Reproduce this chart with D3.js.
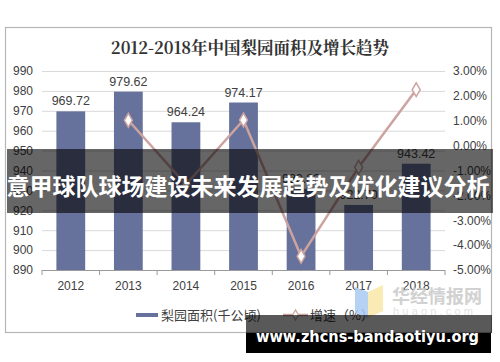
<!DOCTYPE html>
<html><head><meta charset="utf-8">
<script src="https://cdn.jsdelivr.net/npm/d3@7"></script>
<style>html,body{margin:0;padding:0;background:#fff;}svg{display:block;}</style>
</head><body>
<svg id="c" width="500" height="362"></svg>
<script>
const years = ["2012","2013","2014","2015","2016","2017","2018"];
const area = [969.72, 979.62, 964.24, 974.17, 930.83, 922.70, 943.42];
const growth = [null, 1.02, -1.57, 1.03, -4.45, -0.87, 2.25];
const leftTicks = [890,900,910,920,930,940,950,960,970,980,990];
const rightTicks = [-5,-4,-3,-2,-1,0,1,2,3];
const title = "2012-2018年中国梨园面积及增长趋势";
const bannerText = "意甲球队球场建设未来发展趋势及优化建议分析";
const footerText = "www.zhcns-bandaotiyu.org";

const svg = d3.select("#c");
const barColor = "#66729b", lineColor = "#cda3a0";
const fontSans = "'Liberation Sans', Arial, 'Noto Sans CJK SC', sans-serif";

svg.append("rect").attr("x",0).attr("y",0).attr("width",500).attr("height",362).attr("fill","#fff");
svg.append("rect").attr("x",5.5).attr("y",27.5).attr("width",486).attr("height",305)
  .attr("fill","#fff").attr("stroke","#b5b5b5").attr("stroke-width",1.2);

svg.append("text").attr("x",250).attr("y",54).attr("text-anchor","middle")
  .attr("font-family","'Noto Serif CJK SC','Noto Sans CJK SC',serif").attr("font-weight","bold")
  .attr("font-size",16.5).attr("fill","#333").text(title);

const x = d3.scaleBand().domain(years).range([42,445]).paddingInner(0.5).paddingOuter(0.25);
const yL = d3.scaleLinear().domain([890,990]).range([270,71]);
const yR = d3.scaleLinear().domain([-5,3]).range([270,71]);

// gridlines
svg.append("g").selectAll("line").data(leftTicks.filter(d=>d>890)).join("line")
  .attr("x1",42).attr("x2",445).attr("y1",d=>yL(d)+0.5).attr("y2",d=>yL(d)+0.5)
  .attr("stroke","#d9d9d9").attr("stroke-width",1);

// left axis
const gl = svg.append("g").attr("transform","translate(33,0)")
  .call(d3.axisLeft(yL).tickValues(leftTicks).tickSize(0).tickPadding(0).tickFormat(d3.format("d")));
gl.select(".domain").remove();
gl.selectAll("text").attr("font-family",fontSans).attr("font-size",12).attr("fill","#404040");

// right axis
const gr = svg.append("g").attr("transform","translate(453,0)")
  .call(d3.axisRight(yR).tickValues(rightTicks).tickSize(0).tickPadding(0).tickFormat(d=>d.toFixed(2)+"%"));
gr.select(".domain").remove();
gr.selectAll("text").attr("font-family",fontSans).attr("font-size",12).attr("fill","#404040");

// bars
svg.append("g").selectAll("rect").data(years).join("rect")
  .attr("x",d=>x(d)).attr("width",x.bandwidth())
  .attr("y",(d,i)=>yL(area[i])).attr("height",(d,i)=>yL(890)-yL(area[i]))
  .attr("fill",barColor);

// bottom axis
const gb = svg.append("g").attr("transform","translate(0,270.5)")
  .call(d3.axisBottom(x).tickSize(0).tickPadding(11));
gb.select(".domain").attr("stroke","#9a9a9a").attr("d","M42,0H445");
gb.selectAll("text").attr("font-family",fontSans).attr("font-size",12).attr("fill","#404040");
const step = x.step();
svg.append("g").selectAll("line").data(d3.range(years.length+1)).join("line")
  .attr("x1",i=>42+i*step).attr("x2",i=>42+i*step).attr("y1",270).attr("y2",275)
  .attr("stroke","#9a9a9a");

// bar labels
svg.append("g").selectAll("text").data(years).join("text")
  .attr("x",d=>x(d)+x.bandwidth()/2).attr("y",(d,i)=>yL(area[i])-6)
  .attr("text-anchor","middle").attr("font-family",fontSans).attr("font-size",12.5).attr("fill","#404040")
  .text((d,i)=>area[i].toFixed(2));

// growth line
const pts = years.map((d,i)=>({yr:d,v:growth[i]})).filter(p=>p.v!==null);
const line = d3.line().x(p=>x(p.yr)+x.bandwidth()/2).y(p=>yR(p.v));
svg.append("path").datum(pts).attr("d",line).attr("fill","none")
  .attr("stroke",lineColor).attr("stroke-width",2.5);
const diamond = d3.symbol().type(d3.symbolDiamond).size(55);
svg.append("g").selectAll("path").data(pts).join("path")
  .attr("d",diamond).attr("transform",p=>`translate(${x(p.yr)+x.bandwidth()/2},${yR(p.v)})`)
  .attr("fill","#fff").attr("stroke",lineColor).attr("stroke-width",1.5);

// legend
svg.append("rect").attr("x",136).attr("y",313).attr("width",22).attr("height",4).attr("fill",barColor);
svg.append("text").attr("x",161).attr("y",320).attr("font-family","'Noto Sans CJK SC',sans-serif")
  .attr("font-size",13).attr("fill","#404040").text("梨园面积(千公顷)");
svg.append("line").attr("x1",283).attr("x2",308).attr("y1",315).attr("y2",315)
  .attr("stroke",lineColor).attr("stroke-width",2.5);
svg.append("path").attr("d",d3.symbol().type(d3.symbolDiamond).size(30)).attr("transform","translate(295.5,315)")
  .attr("fill","#fff").attr("stroke",lineColor).attr("stroke-width",1.2);
svg.append("text").attr("x",310).attr("y",320).attr("font-family","'Noto Sans CJK SC',sans-serif")
  .attr("font-size",13).attr("fill","#404040").text("增速（%）");

// logo watermark
const logo = svg.append("g").attr("opacity",0.85);
logo.append("polygon").attr("points","355,287 368,292 368,318 355,313").attr("fill","#a9c9f2");
logo.append("polygon").attr("points","368,292 383,285 383,311 368,318").attr("fill","#f9e8a6");
logo.append("text").attr("x",392).attr("y",303).attr("font-family","'Noto Sans CJK SC',sans-serif")
  .attr("font-weight","bold").attr("font-size",18).attr("fill","#c9c9c9").text("华经情报网");
logo.append("text").attr("x",393).attr("y",315).attr("font-family",fontSans)
  .attr("font-size",11).attr("letter-spacing",3.2).attr("fill","#dedede").text("huaon.com");

// middle banner
svg.append("rect").attr("x",7).attr("y",149).attr("width",486).attr("height",64).attr("fill","rgba(0,0,0,0.6)");
svg.append("text").attr("x",248).attr("y",185).attr("text-anchor","middle").attr("dominant-baseline","central")
  .attr("font-family","'Noto Sans CJK SC',sans-serif").attr("font-weight","bold").attr("font-size",23)
  .attr("fill","#fff").text(bannerText);

// footer banner
svg.append("rect").attr("x",246).attr("y",315).attr("width",246).attr("height",18).attr("fill","rgba(0,0,0,0.65)");
svg.append("rect").attr("x",246).attr("y",333).attr("width",245).attr("height",20).attr("fill","#000");
svg.append("text").attr("x",256).attr("y",342).attr("font-family","'DejaVu Sans',sans-serif")
  .attr("font-weight","bold").attr("font-size",15).attr("fill","#fff")
  .attr("textLength",223).attr("lengthAdjust","spacingAndGlyphs").text(footerText);
</script>
</body></html>
